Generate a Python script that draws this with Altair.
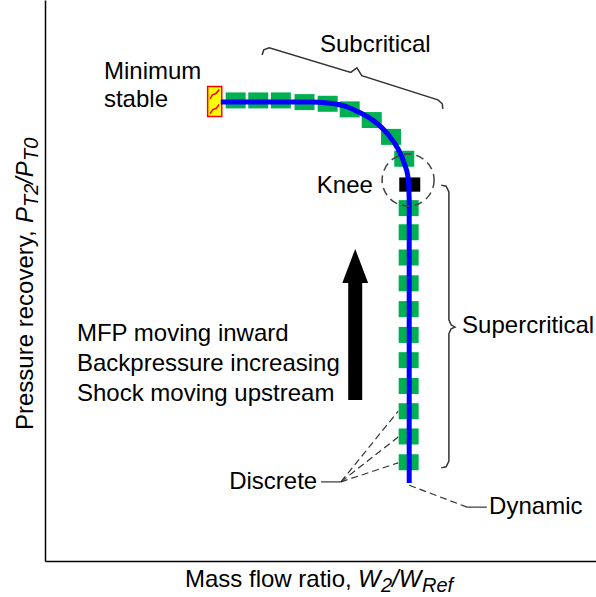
import altair as alt
import pandas as pd

# ---- values (arbitrary 0-100 units on both axes) ----
# discrete (green) samples
disc_x = [34.6, 38.7, 42.8, 47.1, 51.3, 55.3, 59.3, 62.8, 65.2,
          66.0, 66.0, 66.0, 66.0, 66.0, 66.0, 66.0, 66.0, 66.0, 66.0, 66.0]
disc_y = [82.1, 82.1, 82.1, 81.8, 81.5, 80.5, 78.6, 75.6, 71.7,
          62.9, 58.6, 54.1, 49.5, 44.9, 40.3, 35.8, 31.2, 26.7, 22.2, 17.6]
# knee sample (black)
knee_x = [66.2]
knee_y = [67.1]
# minimum stable point
min_x = [30.8]
min_y = [81.9]
# dynamic characteristic (blue)
dyn_x = [31.9, 48.1, 51.7, 54.4, 57.2, 59.9, 62.3, 64.1, 65.2, 65.9, 66.1, 66.1]
dyn_y = [81.8, 81.8, 81.6, 81.1, 79.9, 78.3, 76.0, 73.4, 70.9, 68.3, 64.3, 13.9]
# knee circle centre
circ_x = [65.9]
circ_y = [67.9]
# arrow (shaft bottom/top, head centre)
arrow_x = [56.3]
arrow_y0 = [28.7]
arrow_y1 = [49.6]
arrow_head_y = [52.6]
# brace outlines
sub_brace_x = [39.4, 39.7, 40.7, 55.5, 56.6, 57.5, 71.3, 72.1, 72.2]
sub_brace_y = [90.2, 91.1, 91.5, 87.1, 87.9, 86.5, 82.2, 81.5, 80.6]
sup_brace_x = [71.9, 72.8, 73.3, 73.3, 73.7, 74.4, 73.7, 73.3, 73.3, 72.8, 71.9]
sup_brace_y = [67.0, 66.8, 65.8, 43.0, 42.1, 41.7, 41.4, 40.5, 17.8, 16.8, 16.6]
# leader lines
disc_lead_dash_x = [53.7, 64.1]
disc_lead_dash_y = [14.1, 14.1]
disc_lead_targets_y = [26.7, 22.1, 17.5]
disc_lead_solid_x = [50.1, 53.7]
disc_lead_solid_y = [14.1, 14.1]
dyn_lead_dash_x = [66.1, 76.6]
dyn_lead_dash_y = [13.5, 9.6]
dyn_lead_solid_x = [76.6, 80.2]
dyn_lead_solid_y = [9.6, 9.6]
# annotation texts
left_labels = ["Subcritical", "Minimum", "stable", "Supercritical",
               "MFP moving inward", "Backpressure increasing",
               "Shock moving upstream", "Dynamic"]
left_x = [49.9, 10.7, 10.7, 75.7, 5.8, 5.8, 5.8, 80.6]
left_y = [92.0, 87.2, 82.2, 41.9, 40.4, 35.1, 29.7, 9.6]
right_labels = ["Knee", "Discrete"]
right_x = [59.5, 49.4]
right_y = [66.8, 14.1]

FONT = "Liberation Sans"
FS = 24
SUB = 20
GREEN = "#00B050"
BLUE = "#0000FF"
DARK = "#333333"

xs = alt.Scale(domain=[0, 100])
ys = alt.Scale(domain=[0, 100])
xa = alt.Axis(labels=False, ticks=False, title=None, grid=False,
              domainColor="black", domainWidth=1.5)
ya = alt.Axis(labels=False, ticks=False, title=None, grid=False,
              domainColor="black", domainWidth=1.5)


def X(f="x"):
    return alt.X(f, type="quantitative", scale=xs, axis=xa)


def Y(f="y"):
    return alt.Y(f, type="quantitative", scale=ys, axis=ya)


layers = []

# green discrete squares
disc_df = pd.DataFrame({"x": disc_x, "y": disc_y})
layers.append(alt.Chart(disc_df).mark_point(
    shape="M-1,-0.8L1,-0.8L1,0.8L-1,0.8Z", size=400, filled=True,
    color=GREEN, opacity=1, strokeWidth=0).encode(x=X(), y=Y()))

# knee black square
knee_df = pd.DataFrame({"x": knee_x, "y": knee_y})
layers.append(alt.Chart(knee_df).mark_point(
    shape="M-1,-0.68L1,-0.68L1,0.68L-1,0.68Z", size=441, filled=True,
    color="black", opacity=1, strokeWidth=0).encode(x=X(), y=Y()))

# minimum stable marker
min_df = pd.DataFrame({"x": min_x, "y": min_y})
layers.append(alt.Chart(min_df).mark_point(
    shape="M-0.47,-1L0.47,-1L0.47,1L-0.47,1Z", size=900, filled=True,
    fill="#FFFF00", stroke="#FF0000", strokeWidth=1.5, opacity=1).encode(x=X(), y=Y()))
layers.append(alt.Chart(min_df).mark_point(
    shape="M0.3,-0.8L0.1,-0.55L-0.15,-0.45L-0.3,-0.2M0.3,0.2L0.1,0.45L-0.15,0.55L-0.3,0.8",
    size=900, filled=False, stroke="#FF0000", strokeWidth=1.6, opacity=1).encode(x=X(), y=Y()))

# blue dynamic line
dyn_df = pd.DataFrame({"x": dyn_x, "y": dyn_y, "o": list(range(len(dyn_x)))})
layers.append(alt.Chart(dyn_df).mark_line(
    color=BLUE, strokeWidth=5, interpolate="monotone").encode(
    x=X(), y=Y(), order="o:Q"))

# knee dashed circle
circ_df = pd.DataFrame({"x": circ_x, "y": circ_y})
layers.append(alt.Chart(circ_df).mark_point(
    shape="circle", size=2704, filled=False, stroke="#444444",
    strokeWidth=1.5, strokeDash=[8, 5], opacity=1).encode(x=X(), y=Y()))

# arrow
arr_df = pd.DataFrame({"x": arrow_x, "y": arrow_y0, "y2": arrow_y1, "yh": arrow_head_y})
layers.append(alt.Chart(arr_df).mark_rule(color="black", strokeWidth=14).encode(
    x=X(), y=Y(), y2="y2:Q"))
layers.append(alt.Chart(arr_df).mark_point(
    shape="M0,-1L0.76,1L-0.76,1Z", size=1156, filled=True, color="black",
    opacity=1, strokeWidth=0).encode(x=X(), y=Y("yh")))

# braces
br_rows = []
for i, (a, b) in enumerate(zip(sub_brace_x, sub_brace_y)):
    br_rows.append({"g": "sub", "o": i, "x": a, "y": b})
for i, (a, b) in enumerate(zip(sup_brace_x, sup_brace_y)):
    br_rows.append({"g": "sup", "o": i, "x": a, "y": b})
layers.append(alt.Chart(pd.DataFrame(br_rows)).mark_line(
    color=DARK, strokeWidth=1.5).encode(x=X(), y=Y(), detail="g:N", order="o:Q"))

# leader lines
dash_rows = []
for k, ty in enumerate(disc_lead_targets_y):
    dash_rows.append({"g": f"d{k}", "o": 0, "x": disc_lead_dash_x[0], "y": disc_lead_dash_y[0]})
    dash_rows.append({"g": f"d{k}", "o": 1, "x": disc_lead_dash_x[1], "y": ty})
dash_rows.append({"g": "dyn", "o": 0, "x": dyn_lead_dash_x[0], "y": dyn_lead_dash_y[0]})
dash_rows.append({"g": "dyn", "o": 1, "x": dyn_lead_dash_x[1], "y": dyn_lead_dash_y[1]})
layers.append(alt.Chart(pd.DataFrame(dash_rows)).mark_line(
    color=DARK, strokeWidth=1.2, strokeDash=[7, 4]).encode(
    x=X(), y=Y(), detail="g:N", order="o:Q"))
solid_rows = [
    {"g": "a", "o": 0, "x": disc_lead_solid_x[0], "y": disc_lead_solid_y[0]},
    {"g": "a", "o": 1, "x": disc_lead_solid_x[1], "y": disc_lead_solid_y[1]},
    {"g": "b", "o": 0, "x": dyn_lead_solid_x[0], "y": dyn_lead_solid_y[0]},
    {"g": "b", "o": 1, "x": dyn_lead_solid_x[1], "y": dyn_lead_solid_y[1]},
]
layers.append(alt.Chart(pd.DataFrame(solid_rows)).mark_line(
    color=DARK, strokeWidth=1.2).encode(x=X(), y=Y(), detail="g:N", order="o:Q"))

# annotation texts
ldf = pd.DataFrame({"t": left_labels, "x": left_x, "y": left_y})
layers.append(alt.Chart(ldf).mark_text(
    align="left", baseline="middle", font=FONT, fontSize=FS, color="black").encode(
    x=X(), y=Y(), text="t:N"))
rdf = pd.DataFrame({"t": right_labels, "x": right_x, "y": right_y})
layers.append(alt.Chart(rdf).mark_text(
    align="right", baseline="middle", font=FONT, fontSize=FS, color="black").encode(
    x=X(), y=Y(), text="t:N"))

# axis titles built from pieces (normal / italic / subscript)
one = pd.DataFrame({"k": [0]})
x_title = [
    ("Mass flow ratio, ", 140, 587, FS, "normal"),
    ("W", 313, 587, FS, "italic"),
    ("2", 336, 592, SUB, "italic"),
    ("/W", 347, 587, FS, "italic"),
    ("Ref", 377, 592, SUB, "italic"),
]
for t, px, py, fs, st in x_title:
    layers.append(alt.Chart(one).mark_text(
        text=t, align="left", baseline="alphabetic", font=FONT, fontSize=fs,
        fontStyle=st, color="black").encode(x=alt.value(px), y=alt.value(py)))

y_title = [
    ("Pressure recovery, ", -12, 430, FS, "normal"),
    ("P", -12, 223, FS, "italic"),
    ("T2", -7, 207, SUB, "italic"),
    ("/P", -12, 184, FS, "italic"),
    ("T0", -7, 161, SUB, "italic"),
]
for t, px, py, fs, st in y_title:
    layers.append(alt.Chart(one).mark_text(
        text=t, align="left", baseline="alphabetic", font=FONT, fontSize=fs,
        fontStyle=st, angle=270, color="black").encode(x=alt.value(px), y=alt.value(py)))

chart = alt.layer(*layers).properties(
    width=551, height=561,
    padding={"left": 45, "top": 0, "right": 0, "bottom": 36},
    autosize=alt.AutoSizeParams(type="none"),
    background="white",
).configure_view(stroke=None)

chart.save("out.html", embed_options={"renderer": "svg", "actions": False})
